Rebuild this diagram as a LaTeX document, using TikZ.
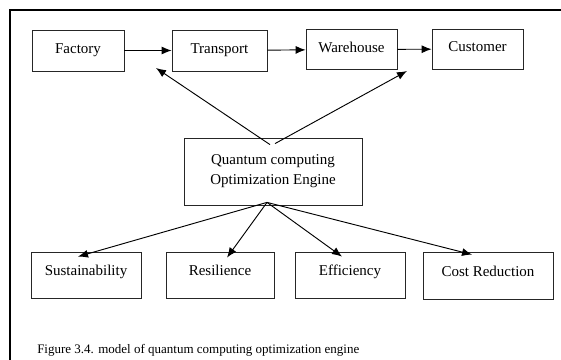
\documentclass[tikz,border=0pt]{standalone}
\usepackage{fontspec}
\setmainfont{Liberation Serif}
\usepackage{tikz}
\usetikzlibrary{calc,arrows.meta}

\begin{document}
\begin{tikzpicture}[x=0.75pt,y=-0.75pt,
                        stage/.style={draw=black!85,line width=0.6pt,align=center,inner sep=0pt,
                            font=\fontsize{11.25}{15}\selectfont,text height=8pt,text depth=4pt},
                        flow/.style={-{Latex[length=7.5pt,width=6pt]},line width=0.7pt}]
                        \useasboundingbox (0,0) rectangle (561,360);
                        \draw [line width=1.9pt] (10,360) -- (10,10) -- (561,10);

                        \node [stage,minimum width=69pt,minimum height=30.75pt] (factory) at (78,50.5) {Factory};
                        \node [stage,minimum width=71.25pt,minimum height=30.75pt] (transport) at (219.5,50.5) {Transport};
                        \node [stage,minimum width=68.25pt,minimum height=30pt] (warehouse) at (351.5,49.5) {Warehouse};
                        \node [stage,minimum width=68.25pt,minimum height=30pt] (customer) at (477.5,49) {Customer};

                        \node [stage,text height=,text depth=,minimum width=133.5pt,minimum height=50.25pt] (engine) at (273,171.5)
                            {Quantum computing\\Optimization Engine};

                        \node [stage,text depth=7pt,minimum width=82.5pt,minimum height=34.5pt] (sustain) at (86,275) {Sustainability};
                        \node [stage,text depth=7pt,minimum width=81pt,minimum height=34.5pt] (resilience) at (220,275) {Resilience};
                        \node [stage,text depth=7pt,minimum width=82.5pt,minimum height=34.5pt] (efficiency) at (350,275) {Efficiency};
                        \node [stage,text depth=7pt,minimum width=97.5pt,minimum height=35.25pt] (cost) at (488,275.5) {Cost Reduction};

                        \node [anchor=west,inner sep=0pt,font=\fontsize{9.75}{12}\selectfont] (caption) at (37,350)
                            {Figure 3.4. model of quantum computing optimization engine};

                        \draw [flow] (factory) -- (transport);
                        \draw [flow] (transport) -- (warehouse);
                        \draw [flow] (warehouse) -- (customer);

                        \coordinate (upleft) at (156,68);
                        \coordinate (upright) at (407,71);
                        \draw [flow] ($(engine.north)+(-3,7)$) -- (upleft);
                        \draw [flow] ($(engine.north)+(2,6)$) -- (upright);

                        \draw [flow] ($(engine.south)+(-6,-3)$) -- ($(sustain.north)+(-8,5)$);
                        \draw [flow] ($(engine.south)+(-6,-3)$) -- ($(resilience.north)+(7,6)$);
                        \draw [flow] ($(engine.south)+(-6,-3)$) -- ($(efficiency.north)+(-8,5)$);
                        \draw [flow] ($(engine.south)+(-6,-3)$) -- ($(cost.north)+(-16,3)$);
                    \end{tikzpicture}
\end{document}
